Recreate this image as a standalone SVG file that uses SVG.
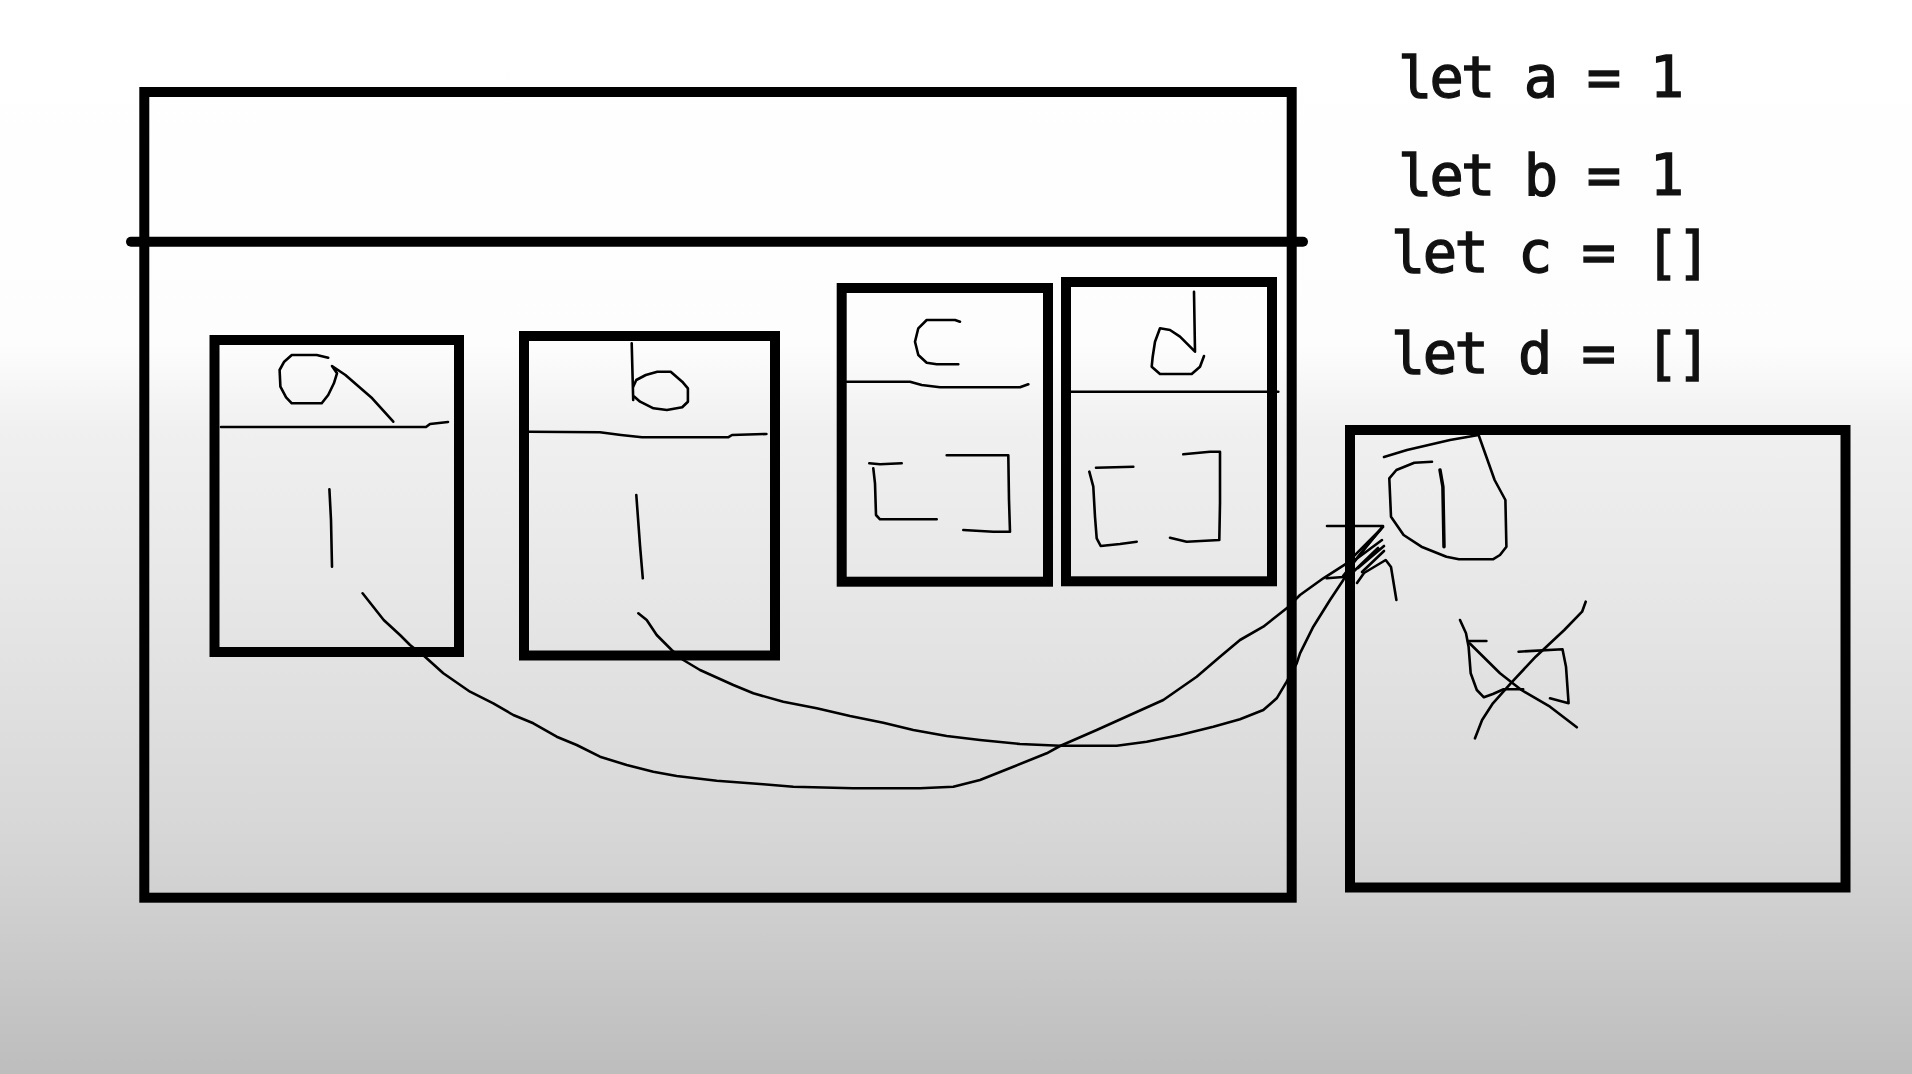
<svg xmlns="http://www.w3.org/2000/svg" width="1912" height="1074" viewBox="0 0 1912 1074">
<defs>
<linearGradient id="bg" x1="0" y1="0" x2="0" y2="1">
<stop offset="0" stop-color="#ffffff"/>
<stop offset="0.32" stop-color="#fdfdfd"/>
<stop offset="0.40" stop-color="#f0f0f0"/>
<stop offset="0.55" stop-color="#e7e7e7"/>
<stop offset="0.76" stop-color="#d8d8d8"/>
<stop offset="0.84" stop-color="#d0d0d0"/>
<stop offset="1" stop-color="#bdbdbd"/>
</linearGradient>
<style>
.thick{fill:none;stroke:#000;stroke-width:10}
.bar{fill:none;stroke:#000;stroke-width:10;stroke-linecap:round}
.pen{fill:none;stroke:#000;stroke-width:2.6;stroke-linecap:round;stroke-linejoin:round}
.code{font-family:"DejaVu Sans Mono","Liberation Mono",monospace;font-size:57px;fill:#111;stroke:#111;stroke-width:1.3}
</style>
</defs>
<rect width="1912" height="1074" fill="url(#bg)"/>

<g id="stack-frame">
<rect class="thick" x="144.3" y="92" width="1147.4" height="805.7"/>
<path class="bar" d="M131 241.7 L1303 241.7"/>
</g>

<g id="box-a">
<rect class="thick" x="214.5" y="340" width="244.5" height="312"/>
<path class="pen" d="M221 427 L426 427 L430 424 L448 422"/>
<path class="pen" d="M328.2 357.7 L316.7 355 L291.8 355 L284.2 361.7 L279.6 370 L280.4 386.7 L286.1 397.3 L291.8 403.3 L321.7 403.3 L328.2 395 L333.9 383.3 L337 373.3 L332 366 L345.4 375 L372.2 398.3 L393.3 421.7"/>
<path class="pen" d="M329.4 489.3 L331 520 L332 566.7"/>
</g>

<g id="box-b">
<rect class="thick" x="524" y="336" width="251" height="319.5"/>
<path class="pen" d="M529.1 431.7 L599.9 432.3 L621 435 L642 437.3 L728.1 437.3 L732 435 L766.4 434"/>
<path class="pen" d="M631.7 343.3 L633.2 400"/>
<path class="pen" d="M633.2 386.7 L636.3 380 L645.8 375 L657.3 371.7 L670.7 371.7 L682.2 381.7 L687.9 388.3 L687.9 401.7 L682.2 407.3 L666.9 410 L653.5 408.3 L640.1 401.7 L634.4 396.7"/>
<path class="pen" d="M636.3 495 L640.1 546.7 L642.8 578.3"/>
</g>

<g id="box-c">
<rect class="thick" x="841.7" y="288" width="206.3" height="293.7"/>
<path class="pen" d="M960 321.7 L955 320 L926.7 320 L918.3 328.3 L915 341.7 L918.3 355 L926.7 362.7 L936.7 364.3 L958.3 364.3"/>
<path class="pen" d="M846.7 381.7 L910 381.7 L921.7 385 L940 387.3 L1020 387.3 L1028.3 384.3"/>
<path class="pen" d="M869.3 463.3 L880 464.3 L901.7 463.3"/>
<path class="pen" d="M873.3 468.3 L875 483.3 L876 515 L880 519.3 L936.7 519.3"/>
<path class="pen" d="M946.7 455.3 L1008.3 455.3 L1009 500 L1010 531.7 L993.3 531.7 L963.3 530"/>
</g>

<g id="box-d">
<rect class="thick" x="1066" y="282" width="206" height="299.3"/>
<path class="pen" d="M1194 291.7 L1195 351.7 L1180 336.7 L1170 330 L1160 328.3 L1155 341.7 L1152.7 356.7 L1151.7 366.7 L1160 374 L1191.7 374 L1200 366.7 L1204 356"/>
<path class="pen" d="M1070.7 391.7 L1278.3 391.7"/>
<path class="pen" d="M1096 467.7 L1133.3 466.7"/>
<path class="pen" d="M1089.3 471.7 L1093.3 486.7 L1095 516.7 L1096.7 538.3 L1100.7 546 L1120 544 L1136.7 541.7"/>
<path class="pen" d="M1183.3 454.3 L1210 451.7 L1220 451.7 L1220 503.3 L1219.3 540 L1186.7 541.7 L1170 537.7"/>
</g>

<g id="heap-object">
<rect class="thick" x="1350" y="430" width="495.5" height="457.5"/>
<path class="pen" d="M1384 457 L1407 450 L1450 440 L1478.6 435 L1494.6 480 L1505.4 500 L1506.4 546.7 L1500 555 L1492.9 559.3 L1458.9 559.3 L1446.4 556.7 L1421.4 546.7 L1403.6 535 L1391 516.7 L1389.3 478.3 L1396.4 470 L1414.3 462.7 L1432 461.7"/>
<path class="pen" d="M1440 470 L1442.9 486.7 L1444 546.7" style="stroke-width:3.5"/>
<path class="pen" d="M1460 620 L1466 633.3 L1468.6 646.7 L1470.7 673.3 L1476.8 690 L1483.9 697.3 L1492.9 694 L1503.6 689.3 L1523.2 689.3"/>
<path class="pen" d="M1467.9 641 L1486.4 641"/>
<path class="pen" d="M1518.6 651.7 L1562.5 649.3 L1566 666.7 L1568.6 703.3 L1550 698.3"/>
<path class="pen" d="M1469.6 643.3 L1500 673.3 L1521.4 690 L1550 706.7 L1576.8 727.3"/>
<path class="pen" d="M1585.7 601.7 L1582.1 611.7 L1564.3 630 L1535.7 656.7 L1510.7 683.3 L1492.9 703.3 L1482.1 720 L1475 738.3"/>
</g>

<g id="code">
<text class="code" x="1398" y="97" textLength="286" lengthAdjust="spacing">let a = 1</text>
<text class="code" x="1398" y="195" textLength="286" lengthAdjust="spacing">let b = 1</text>
<text class="code" x="1391" y="272" textLength="320" lengthAdjust="spacing">let c = []</text>
<text class="code" x="1391" y="373" textLength="320" lengthAdjust="spacing">let d = []</text>
</g>

<g id="connectors">
<polyline class="pen" points="362.6,593.3 383.7,620 400,635 410,645 425,656.7 443.3,673.3 470,691.7 493.3,703.3 513.3,715 533.3,723.3 556.7,736.7 576.7,745 600,756.7 626.7,765 653.3,771.7 676.7,776 716.7,780.7 763.3,784.3 793.3,786.7 853.3,788.3 920,788.3 953.3,786.7 980,780 1013.3,766.7 1046.7,753.3 1060,746 1096.7,730 1130,715 1163.3,700 1196.7,676.7 1220,656.7 1240,640 1263.3,626.7 1286.7,608.3 1300,595 1323.3,578.3 1346.7,563.3 1380,530"/>
<polyline class="pen" points="638.3,613.3 646.7,620 656.7,635 671.7,650 683.3,660 700,670 733.3,685 753.3,693.3 783.3,701.7 816.7,708.3 850,716 883.3,722.7 913.3,730 946.7,736 980,740 1020,744 1060,745.7 1116.7,745.7 1146.7,741.7 1180,735 1213.3,726.7 1240,719.3 1263.3,710 1276.7,698.3 1286.7,681.7 1296.7,663.3 1300,653.3 1313.3,626.7 1330,600 1343.3,580 1350,566.7 1365,548 1383,527"/>
<path class="pen" d="M1327 526 L1383 526 L1343 576 M1326.7 578.3 L1346.7 576.7 M1355 560 L1382 540 M1358 568 L1384 546 M1362 572 L1384 551 M1351 574 L1378 548"/>
<path class="pen" d="M1357 583 L1364 573 L1385.7 560 L1391 567 L1396.4 600"/>
</g>
</svg>
